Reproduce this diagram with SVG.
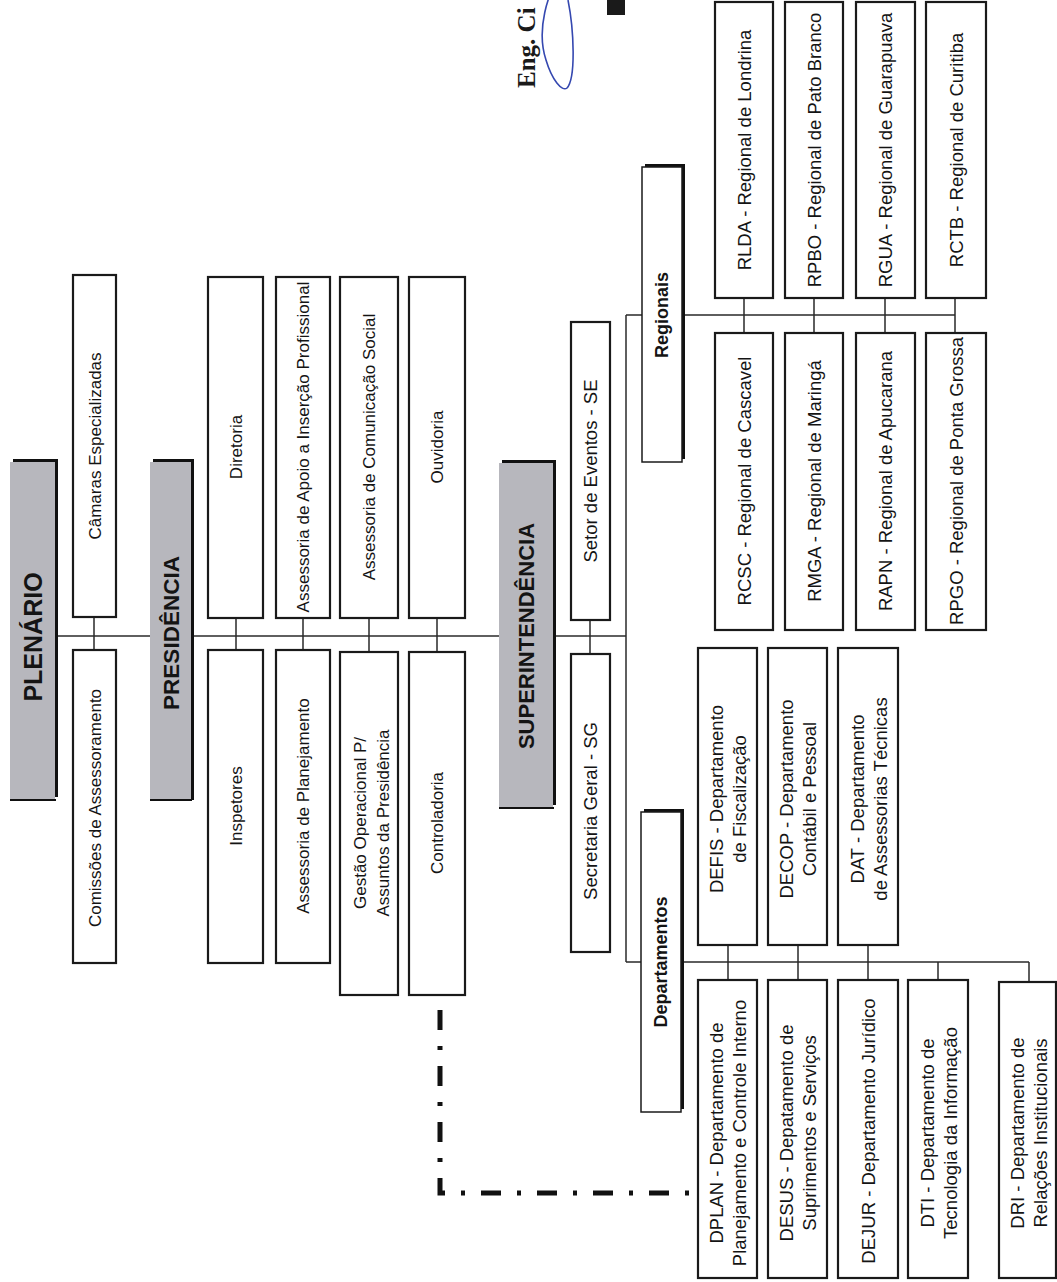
<svg xmlns="http://www.w3.org/2000/svg" width="1057" height="1282" viewBox="0 0 1057 1282">
<style>
.bx{fill:#fff;stroke:#1a1a1a;stroke-width:2.2}
.gb{fill:#b7b7bd}
.sh{fill:#111}
.ln{stroke:#2a2a2a;stroke-width:1.5;fill:none}
.t{font-family:"Liberation Sans",Arial,sans-serif;font-size:17px;fill:#141414;text-anchor:middle;dominant-baseline:central}
.r{font-size:18.5px}
.hd{font-weight:bold}
</style>
<rect width="1057" height="1282" fill="#fff"/>
<g id="connectors">
<path class="ln" d="M55,636 H626"/>
<path class="ln" d="M94,617 V650 M236,618 V650 M303,618 V650 M369,618 V652 M437,618 V652 M590,620 V654"/>
<path class="ln" d="M626,315 V962"/>
<path class="ln" d="M626,315 H955 M744,298 V333 M814,298 V333 M885,298 V333 M955,298 V333"/>
<path class="ln" d="M626,962 H1029 M728,945 V980 M798,945 V980 M868,945 V980 M938,962 V980 M1029,962 V982"/>
<path d="M440,1010 V1193 H698" fill="none" stroke="#111" stroke-width="5" stroke-dasharray="20 16 4 16"/>
</g>
<g id="plenario">
<rect class="sh" x="13" y="459" width="45" height="338"/>
<rect class="gb" x="10" y="462" width="45" height="338"/>
<line x1="10" y1="800" x2="56" y2="800" stroke="#111" stroke-width="2"/>
<text class="t hd" style="font-size:25px" transform="translate(33,637) rotate(-90)">PLENÁRIO</text>
</g>
<g id="camaras"><rect class="bx" x="73" y="275" width="43" height="342"/><text class="t" transform="translate(95,446) rotate(-90)">Câmaras Especializadas</text></g>
<g id="comissoes"><rect class="bx" x="73" y="650" width="43" height="313"/><text class="t" transform="translate(95,808) rotate(-90)">Comissões de Assessoramento</text></g>
<g id="presidencia">
<rect class="sh" x="153" y="459" width="41" height="341"/>
<rect class="gb" x="150" y="462" width="41" height="338"/>
<line x1="150" y1="800" x2="192" y2="800" stroke="#111" stroke-width="2"/>
<text class="t hd" style="font-size:22.5px" transform="translate(171,633) rotate(-90)">PRESIDÊNCIA</text>
</g>
<g id="diretoria"><rect class="bx" x="208" y="277" width="55" height="341"/><text class="t" transform="translate(236,447) rotate(-90)">Diretoria</text></g>
<g id="inspetores"><rect class="bx" x="208" y="650" width="55" height="313"/><text class="t" transform="translate(236,806) rotate(-90)">Inspetores</text></g>
<g id="assessoria-apoio"><rect class="bx" x="276" y="277" width="54" height="341"/><text class="t" transform="translate(303,447) rotate(-90)">Assessoria de Apoio a Inserção Profissional</text></g>
<g id="assessoria-planejamento"><rect class="bx" x="276" y="650" width="54" height="313"/><text class="t" transform="translate(303,806) rotate(-90)">Assessoria de Planejamento</text></g>
<g id="assessoria-comunicacao"><rect class="bx" x="340" y="277" width="58" height="341"/><text class="t" transform="translate(369,447) rotate(-90)">Assessoria de Comunicação Social</text></g>
<g id="gestao"><rect class="bx" x="340" y="652" width="58" height="343"/>
<text class="t" transform="translate(360,823) rotate(-90)">Gestão Operacional P/</text>
<text class="t" transform="translate(383,823) rotate(-90)">Assuntos da Presidência</text></g>
<g id="ouvidoria"><rect class="bx" x="409" y="277" width="56" height="341"/><text class="t" transform="translate(437,447) rotate(-90)">Ouvidoria</text></g>
<g id="controladoria"><rect class="bx" x="409" y="652" width="56" height="343"/><text class="t" transform="translate(437,823) rotate(-90)">Controladoria</text></g>
<g id="superintendencia">
<rect class="sh" x="502" y="460" width="54" height="345"/>
<rect class="gb" x="499" y="463" width="54" height="345"/>
<line x1="499" y1="808" x2="554" y2="808" stroke="#111" stroke-width="2"/>
<text class="t hd" style="font-size:22px" transform="translate(526,636) rotate(-90)">SUPERINTENDÊNCIA</text>
</g>
<g id="setor-eventos"><rect class="bx" x="571" y="322" width="39" height="298"/><text class="t r" transform="translate(590,471) rotate(-90)">Setor de Eventos - SE</text></g>
<g id="secretaria-geral"><rect class="bx" x="571" y="654" width="39" height="298"/><text class="t r" transform="translate(590,811) rotate(-90)">Secretaria Geral - SG</text></g>
<g id="regionais">
<rect class="sh" x="645" y="164" width="40" height="295"/>
<rect class="bx" x="642" y="167" width="40" height="295" style="stroke-width:1.5"/>
<text class="t hd" style="font-size:18px" transform="translate(662,315) rotate(-90)">Regionais</text>
</g>
<g id="departamentos">
<rect class="sh" x="644" y="809" width="40" height="300"/>
<rect class="bx" x="641" y="812" width="40" height="300" style="stroke-width:1.5"/>
<text class="t hd" style="font-size:18px" transform="translate(661,962) rotate(-90)">Departamentos</text>
</g>
<g id="rlda"><rect class="bx" x="715" y="2" width="58" height="296"/><text class="t r" transform="translate(744,150) rotate(-90)">RLDA - Regional de Londrina</text></g>
<g id="rpbo"><rect class="bx" x="785" y="2" width="58" height="296"/><text class="t r" transform="translate(814,150) rotate(-90)">RPBO - Regional de Pato Branco</text></g>
<g id="rgua"><rect class="bx" x="856" y="2" width="59" height="296"/><text class="t r" transform="translate(885,150) rotate(-90)">RGUA - Regional de Guarapuava</text></g>
<g id="rctb"><rect class="bx" x="926" y="2" width="60" height="296"/><text class="t r" transform="translate(956,150) rotate(-90)">RCTB - Regional de Curitiba</text></g>
<g id="rcsc"><rect class="bx" x="715" y="333" width="58" height="297"/><text class="t r" transform="translate(744,481) rotate(-90)">RCSC - Regional de Cascavel</text></g>
<g id="rmga"><rect class="bx" x="785" y="333" width="58" height="297"/><text class="t r" transform="translate(814,481) rotate(-90)">RMGA - Regional de Maringá</text></g>
<g id="rapn"><rect class="bx" x="856" y="333" width="59" height="297"/><text class="t r" transform="translate(885,481) rotate(-90)">RAPN - Regional de Apucarana</text></g>
<g id="rpgo"><rect class="bx" x="926" y="333" width="60" height="297"/><text class="t r" transform="translate(956,481) rotate(-90)">RPGO - Regional de Ponta Grossa</text></g>
<g id="defis"><rect class="bx" x="698" y="648" width="59" height="297"/>
<text class="t r" transform="translate(716,799) rotate(-90)">DEFIS - Departamento</text>
<text class="t r" transform="translate(739,799) rotate(-90)">de Fiscalização</text></g>
<g id="decop"><rect class="bx" x="768" y="648" width="59" height="297"/>
<text class="t r" transform="translate(786,799) rotate(-90)">DECOP - Departamento</text>
<text class="t r" transform="translate(809,799) rotate(-90)">Contábil e Pessoal</text></g>
<g id="dat"><rect class="bx" x="838" y="648" width="60" height="297"/>
<text class="t r" transform="translate(857,799) rotate(-90)">DAT - Departamento</text>
<text class="t r" transform="translate(880,799) rotate(-90)">de Assessorias Técnicas</text></g>
<g id="dplan"><rect class="bx" x="698" y="980" width="59" height="298"/>
<text class="t r" transform="translate(716,1133) rotate(-90)">DPLAN - Departamento de</text>
<text class="t r" transform="translate(739,1133) rotate(-90)">Planejamento e Controle Interno</text></g>
<g id="desus"><rect class="bx" x="768" y="980" width="59" height="298"/>
<text class="t r" transform="translate(786,1133) rotate(-90)">DESUS - Depatamento de</text>
<text class="t r" transform="translate(809,1133) rotate(-90)">Suprimentos e Serviços</text></g>
<g id="dejur"><rect class="bx" x="838" y="980" width="60" height="298"/>
<text class="t r" transform="translate(868,1131) rotate(-90)">DEJUR - Departamento Jurídico</text></g>
<g id="dti"><rect class="bx" x="908" y="980" width="60" height="298"/>
<text class="t r" transform="translate(927,1133) rotate(-90)">DTI - Departamento de</text>
<text class="t r" transform="translate(950,1133) rotate(-90)">Tecnologia da Informação</text></g>
<g id="dri"><rect class="bx" x="999" y="982" width="57" height="296"/>
<text class="t r" transform="translate(1017,1133) rotate(-90)">DRI - Departamento de</text>
<text class="t r" transform="translate(1040,1133) rotate(-90)">Relações Institucionais</text></g>
<text transform="translate(535,88) rotate(-90)" style="font-family:'Liberation Serif','Times New Roman',serif;font-weight:bold;font-size:25px;fill:#1a1a1a;text-anchor:start">Eng. Ci</text>
<path d="M560,-20 C548,-10 536,30 546,60 C552,80 562,92 567,88 C576,78 574,30 568,0" fill="none" stroke="#3548b0" stroke-width="1.6"/>
<rect x="607" y="0" width="18" height="15" fill="#1a1a1a"/>
</svg>
